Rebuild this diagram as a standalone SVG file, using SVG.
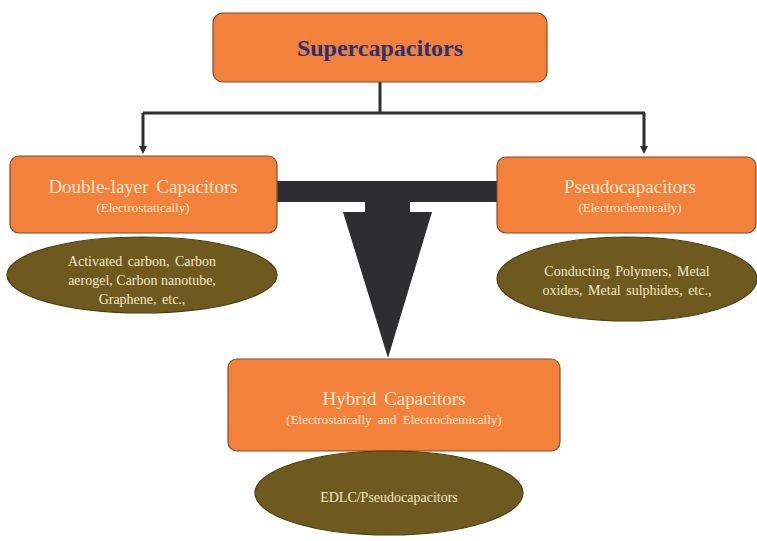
<svg xmlns="http://www.w3.org/2000/svg" width="757" height="541" viewBox="0 0 757 541">
<style>
.box{fill:#f2813b;stroke:#8a4b22;stroke-width:1.2}
.ell{fill:#6e5a1f;stroke:#4e3f14;stroke-width:1.2}
text{font-family:'Liberation Serif','Times New Roman','DejaVu Serif',serif;text-anchor:middle}
.big{font-size:19px;fill:#fde6cf}
.sub{font-size:13px;fill:#fde6cf}
.et{font-size:14px;fill:#f3e7c4}
.ln{fill:none;stroke:#2f2f2f;stroke-width:3}
</style>
<defs>
<marker id="ah" markerWidth="8" markerHeight="8" refX="4" refY="4" orient="auto" markerUnits="userSpaceOnUse">
<path d="M0,0 L8,4 L0,8 Z" fill="#2f2f2f"/>
</marker>
</defs>
<rect width="757" height="541" fill="#ffffff"/>
<g id="connectors">
<path class="ln" d="M380,82 V113"/>
<path class="ln" d="M143,113 H645"/>
<path class="ln" d="M143,113 V150" marker-end="url(#ah)"/>
<path class="ln" d="M644,113 V150" marker-end="url(#ah)"/>
<path d="M277,181 H497 V202 H410 V212 H432 L388,358 L343,212 H365 V202 H277 Z" fill="#2e2e30"/>
</g>
<g id="supercapacitors">
<rect class="box" x="213" y="13" width="334" height="69" rx="10"/>
<text x="380" y="56" font-size="24" font-weight="bold" fill="#2e3170">Supercapacitors</text>
</g>
<g id="double-layer">
<rect class="box" x="10" y="156" width="267" height="77" rx="9"/>
<text class="big" x="143" y="193" word-spacing="3">Double-layer Capacitors</text>
<text class="sub" x="143" y="212">(Electrostatically)</text>
</g>
<g id="double-layer-materials">
<ellipse class="ell" cx="142" cy="275" rx="135" ry="38"/>
<text class="et" x="142" y="266" word-spacing="2">Activated carbon, Carbon</text>
<text class="et" x="142" y="285">aerogel, Carbon nanotube,</text>
<text class="et" x="142" y="304" word-spacing="2">Graphene, etc.,</text>
</g>
<g id="pseudo">
<rect class="box" x="497" y="157" width="259" height="76" rx="9"/>
<text class="big" x="630" y="193">Pseudocapacitors</text>
<text class="sub" x="630" y="212">(Electrochemically)</text>
</g>
<g id="pseudo-materials">
<ellipse class="ell" cx="627" cy="279" rx="130" ry="42"/>
<text class="et" x="627" y="276" word-spacing="2">Conducting Polymers, Metal</text>
<text class="et" x="627" y="295" word-spacing="2">oxides, Metal sulphides, etc.,</text>
</g>
<g id="hybrid">
<rect class="box" x="228" y="359" width="332" height="92" rx="9"/>
<text class="big" x="394" y="405" word-spacing="3">Hybrid Capacitors</text>
<text class="sub" x="394" y="424" font-size="13.5" word-spacing="3">(Electrostaically and Electrochemically)</text>
</g>
<g id="hybrid-materials">
<ellipse class="ell" cx="389" cy="493" rx="134" ry="42"/>
<text class="et" x="389" y="502">EDLC/Pseudocapacitors</text>
</g>
</svg>
